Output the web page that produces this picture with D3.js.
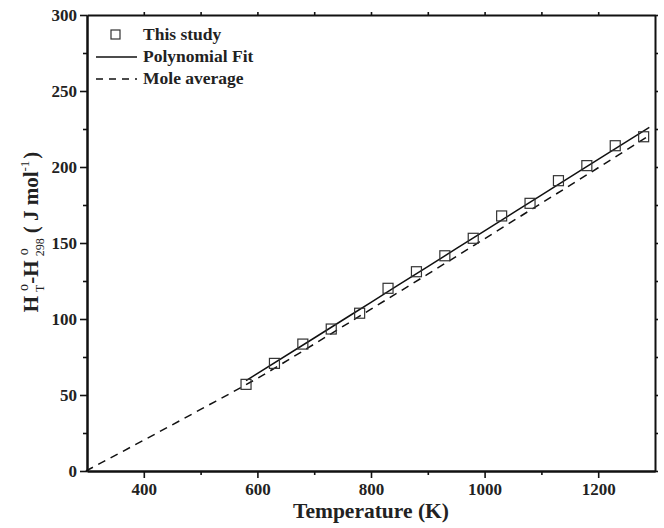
<!DOCTYPE html>
<html>
<head>
<meta charset="utf-8">
<script src="https://cdn.jsdelivr.net/npm/d3@7"></script>
<style>
	body { margin: 0; background: #fff; }
	text { font-family: "Liberation Serif", "DejaVu Serif", serif; font-weight: bold; fill: #222; }
</style>
</head>
<body>
<svg id="viz"></svg>
<script>

	// the data
	var studyT = [580, 630, 680, 730, 780, 830, 880, 930, 980, 1030, 1080, 1130, 1180, 1230, 1280];
	var studyH = [57.0, 70.8, 83.5, 93.4, 103.8, 120.2, 131.1, 141.6, 153.1, 167.8, 176.1, 191.0, 200.9, 214.0, 219.9];

	var fitT = [580, 700, 800, 900, 1000, 1100, 1200, 1290];
	var fitH = [59.5, 87.5, 111, 134.5, 158, 181.5, 205, 226];

	var moleT = [298, 400, 500, 600, 700, 800, 900, 1000, 1100, 1200, 1290];
	var moleH = [0, 20.3, 40.5, 61, 83.5, 106.5, 129.5, 152.8, 176.2, 199.5, 220.7];

	var xTicks = [400, 600, 800, 1000, 1200];
	var yTicks = [0, 50, 100, 150, 200, 250, 300];

	var legendNames = ["This study", "Polynomial Fit", "Mole average"];



	// set up the svg
	var w = 664;
	var h = 528;
	var viz = d3.select("#viz").attr("width", w).attr("height", h);

	var pLeft = 87, pRight = 655, pTop = 15, pBottom = 471;

	var x = d3.scaleLinear().domain([300, 1300]).range([pLeft, pRight]);
	var y = d3.scaleLinear().domain([0, 300]).range([pBottom, pTop]);

	var line = d3.line()
		.x(function(d) { return x(d[0]); })
		.y(function(d) { return y(d[1]); })
		.curve(d3.curveMonotoneX);



	// axes, mirrored on top and right
	function styleAxis(g) {
		g.selectAll("path").attr("stroke", "#111").attr("stroke-width", 2);
		g.selectAll("line").attr("stroke", "#111").attr("stroke-width", 1.6);
		g.selectAll("text").attr("font-size", 17).attr("fill", "#222");
	}

	var xMinor = [500, 700, 900, 1100];
	var yMinor = [25, 75, 125, 175, 225, 275];

	viz.append("g").attr("transform", "translate(0," + pBottom + ")")
		.call(d3.axisBottom(x).tickValues(xMinor).tickSize(4).tickFormat("").tickSizeOuter(0))
		.call(styleAxis);
	viz.append("g").attr("transform", "translate(0," + pBottom + ")")
		.call(d3.axisBottom(x).tickValues(xTicks).tickSize(7).tickPadding(5).tickSizeOuter(0).tickFormat(d3.format("d")))
		.call(styleAxis);

	viz.append("g").attr("transform", "translate(" + pLeft + ",0)")
		.call(d3.axisLeft(y).tickValues(yMinor).tickSize(4).tickFormat("").tickSizeOuter(0))
		.call(styleAxis);
	viz.append("g").attr("transform", "translate(" + pLeft + ",0)")
		.call(d3.axisLeft(y).tickValues(yTicks).tickSize(7).tickPadding(3).tickSizeOuter(0).tickFormat(d3.format("d")))
		.call(styleAxis);

	viz.append("g").attr("transform", "translate(0," + pTop + ")")
		.call(d3.axisTop(x).tickValues(xTicks.concat(xMinor)).tickSize(3).tickFormat("").tickSizeOuter(0))
		.call(styleAxis);
	viz.append("g").attr("transform", "translate(" + pRight + ",0)")
		.call(d3.axisRight(y).tickValues(yTicks.concat(yMinor)).tickSize(3).tickFormat("").tickSizeOuter(0))
		.call(styleAxis);



	// axis titles
	viz.append("text")
		.attr("x", (pLeft + pRight) / 2)
		.attr("y", 518)
		.attr("text-anchor", "middle")
		.attr("font-size", 21.5)
		.text("Temperature (K)");

	var yTitle = viz.append("text")
		.attr("transform", "translate(38,232) rotate(-90)")
		.attr("text-anchor", "middle")
		.attr("font-size", 21);
	yTitle.append("tspan").text("H");
	yTitle.append("tspan").attr("font-size", 14).attr("font-weight", "normal").attr("dx", 5).attr("dy", -10).text("o");
	yTitle.append("tspan").attr("font-size", 12).attr("font-weight", "normal").attr("dx", -8).attr("dy", 16).text("T");
	yTitle.append("tspan").attr("dx", 1).attr("dy", -6).text("-H");
	yTitle.append("tspan").attr("font-size", 14).attr("font-weight", "normal").attr("dx", 5).attr("dy", -10).text("o");
	yTitle.append("tspan").attr("font-size", 12).attr("font-weight", "normal").attr("dx", -8).attr("dy", 16).text("298");
	yTitle.append("tspan").attr("dx", 5).attr("dy", -6).text("( J mol");
	yTitle.append("tspan").attr("font-size", 13).attr("font-weight", "normal").attr("dy", -9).text("-1");
	yTitle.append("tspan").attr("dx", 2).attr("dy", 9).text(")");



	// draw the curves
	viz.append("path")
		.datum(d3.zip(moleT, moleH))
		.attr("d", line)
		.attr("fill", "none")
		.attr("stroke", "#111")
		.attr("stroke-width", 1.5)
		.attr("stroke-dasharray", "8,6");

	viz.append("path")
		.datum(d3.zip(fitT, fitH))
		.attr("d", line)
		.attr("fill", "none")
		.attr("stroke", "#111")
		.attr("stroke-width", 1.5);



	// draw the squares
	viz.selectAll("rect.pt")
		.data(d3.zip(studyT, studyH))
		.enter()
		.append("rect")
		.attr("class", "pt")
		.attr("x", function(d) { return x(d[0]) - 5; })
		.attr("y", function(d) { return y(d[1]) - 5; })
		.attr("width", 10)
		.attr("height", 10)
		.attr("fill", "none")
		.attr("stroke", "#333")
		.attr("stroke-width", 1.2);



	// legend
	var leg = viz.append("g");
	legendNames.forEach(function(name, i) {
		var ly = 35 + i * 22;
		if (i === 0) {
			leg.append("rect").attr("x", 111).attr("y", ly - 5).attr("width", 9).attr("height", 9)
				.attr("fill", "none").attr("stroke", "#333").attr("stroke-width", 1.2);
		} else {
			leg.append("line").attr("x1", 96).attr("x2", 137).attr("y1", ly).attr("y2", ly)
				.attr("stroke", "#111").attr("stroke-width", 1.5)
				.attr("stroke-dasharray", i === 2 ? "7,6" : null);
		}
		leg.append("text").attr("x", 143).attr("y", ly + 5).attr("font-size", 17.5).text(name);
	});

</script>
</body>
</html>
